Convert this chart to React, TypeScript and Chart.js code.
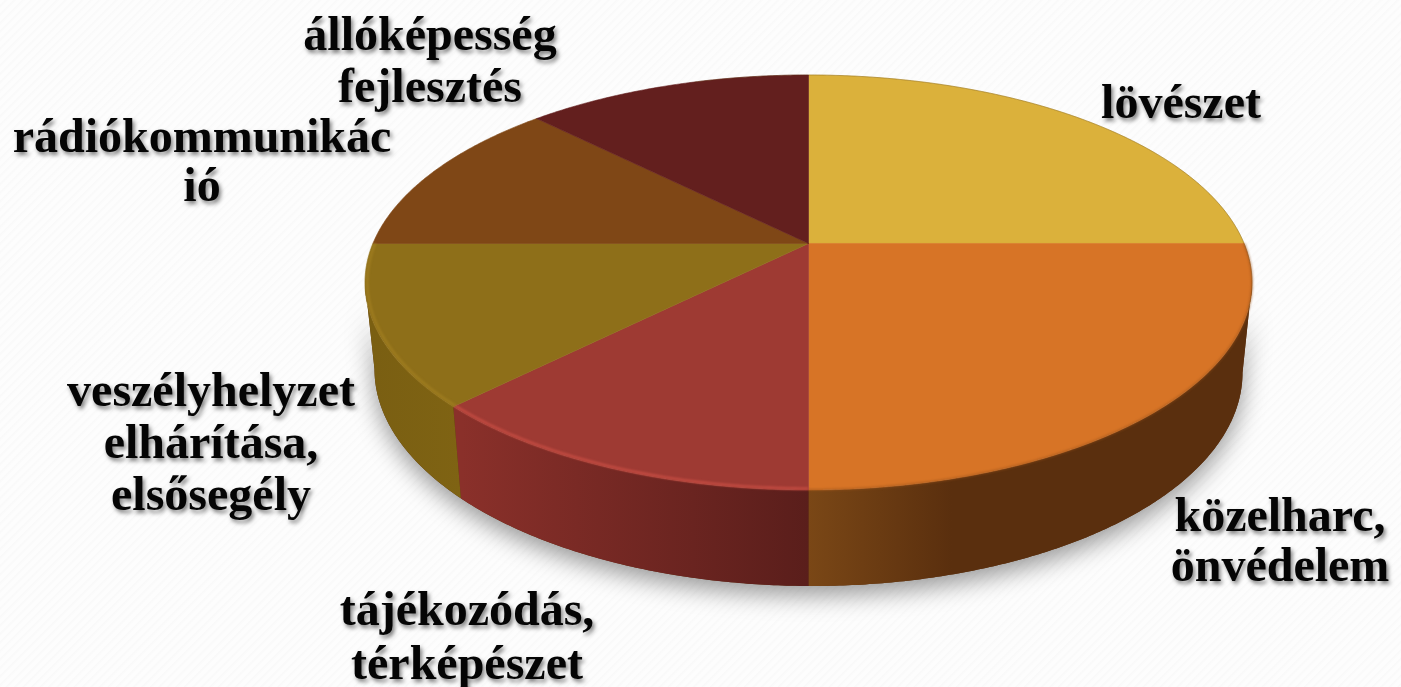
import React, { useEffect, useRef } from "react";
import { Chart, registerables } from "chart.js";

Chart.register(...registerables);

const categories: string[][] = [
  ["lövészet"],
  ["közelharc,", "önvédelem"],
  ["tájékozódás,", "térképészet"],
  ["veszélyhelyzet", "elhárítása,", "elsősegély"],
  ["rádiókommunikác", "ió"],
  ["állóképesség", "fejlesztés"],
];
const shares = [25, 25, 12.5, 12.5, 12.5, 12.5];
const faceColors = ["#DBB13B", "#D77426", "#9E3A33", "#8E6F19", "#7F4716", "#631F1E"];
const sideStart = ["#8f7020", "#7a4716", "#8a302a", "#7f6313", "#5f3510", "#4a1716"];
const sideEnd = ["#8f7020", "#5a2f0e", "#5a1e1b", "#7a5f12", "#5f3510", "#4a1716"];
const rimColors = ["", "rgba(150,80,25,0.55)", "rgba(196,76,66,0.95)", "rgba(160,125,32,0.9)", "", ""];
// label anchor: centre x, first baseline y and line height, in pixels
const labelX = [1181, 1280, 467, 211, 202, 430];
const labelY = [118, 531, 625, 406, 152, 50];
const labelLine = [0, 50, 54, 52, 49, 52];

const top = { cx: 808.5, cy: 282.5, rx: 443.5, ry: 207.5, k: 0 };
const bottom = { cx: 808.5, cy: 371, rx: 434, ry: 215, k: 0.004 };
const s = -0.188;
const rt = Math.sqrt(1 - s * s);
const widest = Math.acos(s);

type E = typeof top;
function pt(e: E, th: number, r = 1): [number, number] {
  const u = Math.sin(th) * r;
  const w = -Math.cos(th) * r;
  const den = 1 + s * w;
  const X = (u * rt) / den;
  const Y = (w + s) / den;
  const x = e.cx + e.rx * X;
  return [x, e.cy + e.ry * Y + e.k * (x - e.cx)];
}
function trace(ctx: CanvasRenderingContext2D, e: E, a: number, b: number, r = 1, move = false) {
  const n = Math.max(2, Math.ceil(Math.abs(b - a) * 120));
  for (let i = 0; i <= n; i++) {
    const [x, y] = pt(e, a + ((b - a) * i) / n, r);
    if (i === 0 && move) ctx.moveTo(x, y);
    else ctx.lineTo(x, y);
  }
}

const pie3d = {
  id: "pie3d",
  beforeDatasetDraw(chart: any, args: any) {
    const ctx: CanvasRenderingContext2D = chart.ctx;
    const arcs = args.meta.data;
    const ang = arcs.map((a: any) => [a.startAngle + Math.PI / 2, a.endAngle + Math.PI / 2]);
    const lo = widest;
    const hi = 2 * Math.PI - widest;

    // drop shadow of the whole disc
    ctx.save();
    ctx.shadowColor = "rgba(0,0,0,0.4)";
    ctx.shadowBlur = 24;
    ctx.shadowOffsetY = 9;
    ctx.shadowOffsetX = 0;
    ctx.fillStyle = "#5a2f0e";
    ctx.beginPath();
    trace(ctx, bottom, lo, hi, 1, true);
    trace(ctx, top, hi, lo);
    ctx.closePath();
    ctx.fill();
    ctx.restore();

    // side walls
    ang.forEach(([a, b]: number[], i: number) => {
      const s0 = Math.max(a, lo);
      const s1 = Math.min(b, hi);
      if (s1 <= s0) return;
      const x0 = pt(bottom, s0)[0];
      const x1 = pt(bottom, s1)[0];
      const g = ctx.createLinearGradient(Math.min(x0, x1), 0, Math.max(x0, x1), 0);
      if (i === 1) {
        g.addColorStop(0, sideStart[i]);
        g.addColorStop(0.33, sideEnd[i]);
        g.addColorStop(1, sideEnd[i]);
      } else if (i === 2) {
        g.addColorStop(0, sideStart[i]);
        g.addColorStop(1, sideEnd[i]);
      } else {
        g.addColorStop(0, sideEnd[i]);
        g.addColorStop(1, sideStart[i]);
      }
      ctx.fillStyle = g;
      ctx.beginPath();
      trace(ctx, top, s0, s1, 1, true);
      trace(ctx, bottom, s1, s0);
      ctx.closePath();
      ctx.fill();
    });

    // top faces
    const [px, py] = [top.cx, top.cy + top.ry * s];
    arcs.forEach((arc: any, i: number) => {
      const [a, b] = ang[i];
      ctx.fillStyle = arc.options.backgroundColor;
      ctx.strokeStyle = arc.options.backgroundColor;
      ctx.lineWidth = 0.6;
      ctx.beginPath();
      ctx.moveTo(px, py);
      trace(ctx, top, a, b);
      ctx.closePath();
      ctx.fill();
      ctx.stroke();
    });

    // rim highlight on the near edge
    ang.forEach(([a, b]: number[], i: number) => {
      if (!rimColors[i]) return;
      ctx.save();
      ctx.strokeStyle = rimColors[i];
      ctx.lineWidth = i === 1 ? 2 : 2.6;
      ctx.filter = "blur(0.9px)";
      ctx.beginPath();
      trace(ctx, top, a, Math.min(b, Math.PI * 1.52), i === 1 ? 1 : 0.995, true);
      ctx.stroke();
      ctx.restore();
    });
    // thin outline on the far edge
    ctx.strokeStyle = "rgba(90,60,10,0.3)";
    ctx.lineWidth = 1;
    ctx.beginPath();
    trace(ctx, top, -Math.PI * 0.1, Math.PI * 0.6, 1, true);
    ctx.stroke();
    return false;
  },
  afterDatasetsDraw(chart: any) {
    const ctx: CanvasRenderingContext2D = chart.ctx;
    ctx.save();
    ctx.font = 'bold 48px "Liberation Serif", serif';
    ctx.textAlign = "center";
    ctx.textBaseline = "alphabetic";
    ctx.fillStyle = "#050505";
    ctx.shadowColor = "rgba(0,0,0,0.5)";
    ctx.shadowBlur = 4;
    ctx.shadowOffsetX = 2;
    ctx.shadowOffsetY = 3;
    chart.data.labels.forEach((lines: string[], i: number) => {
      lines.forEach((t, j) => ctx.fillText(t, labelX[i], labelY[i] + j * labelLine[i]));
    });
    ctx.restore();
  },
};

export default function App() {
  const ref = useRef<HTMLCanvasElement>(null);
  useEffect(() => {
    document.body.style.margin = "0";
    const chart = new Chart(ref.current!, {
      type: "pie",
      data: {
        labels: categories as any,
        datasets: [{ data: shares, backgroundColor: faceColors, borderWidth: 0 }],
      },
      options: {
        animation: false,
        responsive: false,
        plugins: { legend: { display: false }, tooltip: { enabled: false } },
      },
      plugins: [pie3d],
    } as any);
    return () => chart.destroy();
  }, []);
  return (
    <div
      style={{
        position: "fixed",
        left: 0,
        top: 0,
        width: 1401,
        height: 687,
        overflow: "hidden",
        background:
          "repeating-linear-gradient(135deg,#fdfdfd 0px,#fdfdfd 3px,#f9f9f9 4px,#fcfcfc 6px)",
      }}
    >
      <canvas ref={ref} width={1401} height={687} style={{ display: "block" }} />
    </div>
  );
}
